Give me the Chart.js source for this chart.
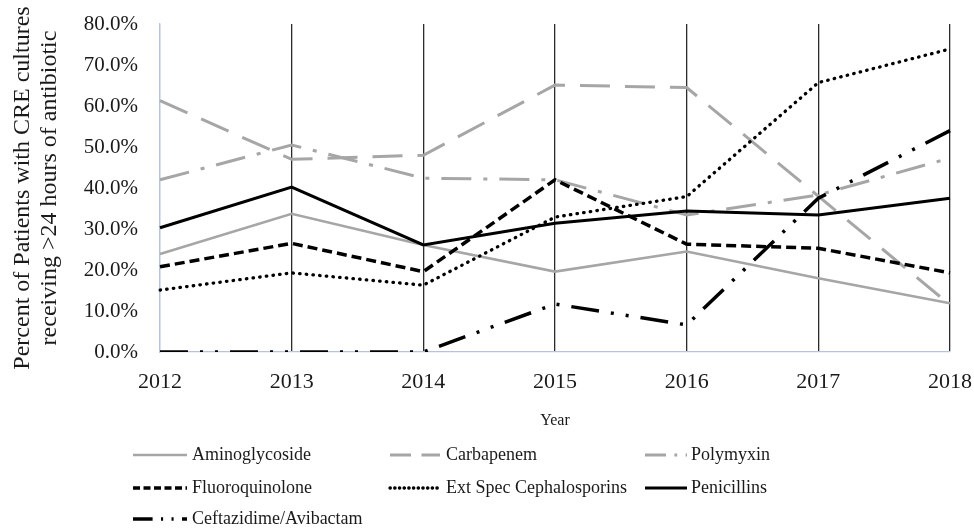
<!DOCTYPE html>
<html>
<head>
<meta charset="utf-8">
<script src="https://cdn.jsdelivr.net/npm/chart.js@4/dist/chart.umd.min.js"></script>
<style>
  html, body { margin: 0; padding: 0; background: #ffffff; }
  #wrap { width: 974px; height: 532px; }
</style>
</head>
<body>
<div id="wrap"><canvas id="c" width="974" height="532"></canvas></div>
<script>
// ---- data ----
const years = ['2012', '2013', '2014', '2015', '2016', '2017', '2018'];
const seriesNames = ['Aminoglycoside', 'Carbapenem', 'Polymyxin', 'Fluoroquinolone',
                     'Ext Spec Cephalosporins', 'Penicillins', 'Ceftazidime/Avibactam'];
const aminoglycoside = [23.9, 33.7, 26.1, 19.6, 24.5, 18.0, 11.9];
const carbapenem     = [61.3, 47.0, 48.0, 65.1, 64.5, 38.0, 11.5];
const polymyxin      = [42.0, 50.5, 42.4, 42.0, 33.4, 38.3, 47.3];
const fluoroquinolone= [20.8, 26.5, 19.6, 42.0, 26.3, 25.3, 19.3];
const extSpecCeph    = [15.1, 19.3, 16.3, 32.9, 37.9, 65.7, 73.9];
const penicillins    = [30.3, 40.2, 26.1, 31.4, 34.4, 33.4, 37.5];
const ceftazidime    = [0.0, 0.0, 0.0, 11.7, 6.6, 37.5, 54.0];
const yTickValues    = [0, 10, 20, 30, 40, 50, 60, 70, 80];

const GRAY = '#a6a6a6';
const BLACK = '#000000';
const SERIF = '"Liberation Serif", "Times New Roman", serif';

function ds(idx, label, data, color, width, dash, cap) {
  return {
    label, data,
    order: 10 - idx,
    borderColor: color, backgroundColor: color,
    borderWidth: width, borderDash: dash, borderCapStyle: cap || 'butt',
    borderJoinStyle: 'miter',
    pointRadius: 0, pointHoverRadius: 0, tension: 0, fill: false
  };
}

const datasets = [
  ds(0, seriesNames[0], aminoglycoside, GRAY, 2.6, []),
  ds(1, seriesNames[1], carbapenem, GRAY, 3, [30, 15]),
  ds(2, seriesNames[2], polymyxin, GRAY, 3, [30, 12, 4, 12]),
  ds(3, seriesNames[3], fluoroquinolone, BLACK, 3.5, [10, 5]),
  ds(4, seriesNames[4], extSpecCeph, BLACK, 3.3, [0.5, 6.2], 'round'),
  ds(5, seriesNames[5], penicillins, BLACK, 3, []),
  ds(6, seriesNames[6], ceftazidime, BLACK, 3.5, [28, 12, 3, 12, 3, 12])
];

// custom grid legend (3 columns, Excel-like)
const legendCols = [
  { x1: 133, x2: 187, tx: 192 },
  { x1: 390, x2: 440, tx: 446 },
  { x1: 645, x2: 687, tx: 691 }
];
const legendRows = [455, 488, 519];
const legendDashScale = 0.7;

const gridLegend = {
  id: 'gridLegend',
  afterDraw(chart) {
    const ctx = chart.ctx;
    chart.data.datasets.forEach((d, i) => {
      const col = legendCols[i % 3];
      const y = legendRows[Math.floor(i / 3)];
      ctx.save();
      ctx.strokeStyle = d.borderColor;
      ctx.lineWidth = d.borderWidth;
      ctx.lineCap = d.borderCapStyle;
      ctx.setLineDash((d.borderDash || []).map(v => v * legendDashScale));
      ctx.beginPath();
      ctx.moveTo(col.x1, y);
      ctx.lineTo(col.x2, y);
      ctx.stroke();
      ctx.setLineDash([]);
      ctx.fillStyle = '#1a1a1a';
      ctx.font = '18px ' + SERIF;
      ctx.textAlign = 'left';
      ctx.textBaseline = 'middle';
      ctx.fillText(d.label, col.tx, y);
      ctx.restore();
    });
  }
};

const AXIS_LIGHT = '#b9c4da';

function noPad(s) { s.paddingTop = 0; s.paddingBottom = 0; s.paddingLeft = 0; s.paddingRight = 0; }

new Chart(document.getElementById('c'), {
  type: 'line',
  data: { labels: years, datasets },
  plugins: [gridLegend],
  options: {
    responsive: false,
    devicePixelRatio: 1,
    animation: false,
    events: [],
    layout: { padding: { left: 0, right: 24, top: 24, bottom: 100 } },
    plugins: { legend: { display: false }, tooltip: { enabled: false }, title: { display: false } },
    scales: {
      x: {
        type: 'category',
        offset: false,
        grid: {
          display: true, drawTicks: false, drawOnChartArea: true,
          color: (c) => c.index === 0 ? AXIS_LIGHT : '#2b2b2b',
          lineWidth: 1.3
        },
        border: { display: true, color: AXIS_LIGHT, width: 1.3 },
        ticks: { color: '#1a1a1a', font: { family: SERIF, size: 22 }, padding: 17, maxRotation: 0, autoSkip: false },
        title: { display: true, text: 'Year', color: '#1a1a1a', font: { family: SERIF, size: 16 }, padding: { top: 0, bottom: 2 } },
        afterFit: (s) => { s.height = 80; noPad(s); }
      },
      y: {
        min: 0, max: 80,
        afterBuildTicks: (s) => { s.ticks = yTickValues.map(v => ({ value: v })); },
        grid: { display: false, drawTicks: false },
        border: { display: true, color: AXIS_LIGHT, width: 1.3 },
        ticks: {
          color: '#1a1a1a', font: { family: SERIF, size: 21 }, padding: 22,
          callback: (v) => v.toFixed(1) + '%'
        },
        title: {
          display: true,
          text: ['Percent of Patients with CRE cultures', 'receiving >24 hours of antibiotic'],
          color: '#1a1a1a', font: { family: SERIF, size: 24, lineHeight: 1.1 },
          padding: { top: 10, bottom: 0 }
        },
        afterFit: (s) => { s.width = 160; noPad(s); }
      }
    }
  }
});
</script>
</body>
</html>
